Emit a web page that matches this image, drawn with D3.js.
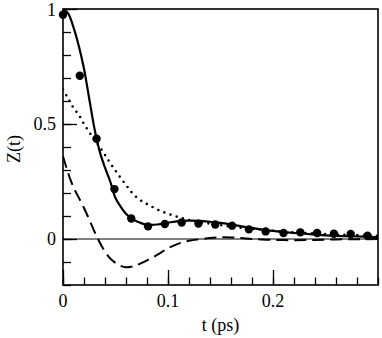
<!DOCTYPE html>
<html>
<head>
<meta charset="utf-8">
<script src="https://cdn.jsdelivr.net/npm/d3@7"></script>
<style>
  body { margin: 0; background: #fff; }
  svg { display: block; }
  svg text { font-family: 'Liberation Serif', 'Times New Roman', Times, 'DejaVu Serif', serif; }
</style>
</head>
<body>
<svg id="chart" width="382" height="338"></svg>
<script>
// simulated points (filled circles)
const dotT = [0, 0.016, 0.032, 0.049, 0.065, 0.081, 0.097, 0.113, 0.129, 0.145,
              0.161, 0.177, 0.193, 0.210, 0.226, 0.242, 0.258, 0.274, 0.290];
const dotZ = [0.975, 0.71, 0.436, 0.217, 0.089, 0.055, 0.065, 0.072, 0.067, 0.063,
              0.058, 0.042, 0.033, 0.026, 0.029, 0.026, 0.023, 0.022, 0.014];

// curves sampled on a common time grid
const curveT = [0, 0.005, 0.01, 0.015, 0.02, 0.025, 0.03, 0.035, 0.04, 0.045,
                0.05, 0.055, 0.06, 0.065, 0.07, 0.075, 0.08, 0.09, 0.10, 0.11,
                0.12, 0.13, 0.14, 0.15, 0.16, 0.17, 0.18, 0.20, 0.22, 0.24,
                0.26, 0.28, 0.30];
const solidZ = [1.0, 0.98, 0.92, 0.84, 0.74, 0.61, 0.48, 0.38, 0.31, 0.25,
                0.178, 0.14, 0.11, 0.09, 0.077, 0.068, 0.062, 0.063, 0.071, 0.078,
                0.08, 0.079, 0.075, 0.07, 0.063, 0.055, 0.048, 0.035, 0.026, 0.019,
                0.014, 0.011, 0.008];
const dottedZ = [0.65, 0.61, 0.57, 0.54, 0.50, 0.465, 0.43, 0.40, 0.365, 0.33,
                 0.297, 0.265, 0.235, 0.205, 0.182, 0.165, 0.152, 0.128, 0.11, 0.095,
                 0.083, 0.074, 0.067, 0.06, 0.054, 0.049, 0.044, 0.036, 0.029, 0.024,
                 0.02, 0.017, 0.014];
const dashedZ = [0.36, 0.285, 0.225, 0.18, 0.135, 0.085, 0.032, -0.015, -0.055, -0.085,
                 -0.104, -0.117, -0.123, -0.121, -0.114, -0.104, -0.093, -0.068, -0.04, -0.02,
                 -0.008, -0.001, 0.004, 0.007, 0.007, 0.004, 0.0, -0.004, -0.005, -0.004,
                 -0.002, -0.001, 0.0];

const xTicks = [0, 0.1, 0.2];
const yTicks = [0, 0.5, 1];

const svg = d3.select('#chart');
const m = { left: 63, right: 378, top: 9, bottom: 285 };

const x = d3.scaleLinear().domain([0, 0.3]).range([m.left, m.right]);
const y = d3.scaleLinear().domain([-0.2, 1]).range([m.bottom, m.top]);

svg.append('clipPath').attr('id', 'clip')
  .append('rect')
  .attr('x', m.left).attr('y', m.top)
  .attr('width', m.right - m.left).attr('height', m.bottom - m.top);

const plot = svg.append('g').attr('clip-path', 'url(#clip)');

// zero line
plot.append('line')
  .attr('x1', m.left).attr('x2', m.right)
  .attr('y1', y(0)).attr('y2', y(0))
  .attr('stroke', '#000').attr('stroke-width', 1);

const line = d3.line()
  .x(d => x(d[0]))
  .y(d => y(d[1]))
  .curve(d3.curveCatmullRom);

plot.append('path')
  .attr('d', line(curveT.map((t, i) => [t, dashedZ[i]])))
  .attr('fill', 'none').attr('stroke', '#000')
  .attr('stroke-width', 2).attr('stroke-dasharray', '12 6');

plot.append('path')
  .attr('d', line(curveT.map((t, i) => [t, dottedZ[i]])))
  .attr('fill', 'none').attr('stroke', '#000')
  .attr('stroke-width', 2.6).attr('stroke-linecap', 'round')
  .attr('stroke-dasharray', '0 6.5');

plot.append('path')
  .attr('d', line(curveT.map((t, i) => [t, solidZ[i]])))
  .attr('fill', 'none').attr('stroke', '#000')
  .attr('stroke-width', 2.2);

svg.append('g')
  .selectAll('circle')
  .data(dotT.map((t, i) => [t, dotZ[i]]))
  .join('circle')
  .attr('cx', d => x(d[0]))
  .attr('cy', d => y(d[1]))
  .attr('r', 4.2)
  .attr('fill', '#000');

// axes with inward ticks
const xAxisMajor = d3.axisTop(x).tickValues(xTicks).tickSize(15).tickFormat('');
const xAxisMinor = d3.axisTop(x).tickValues(d3.range(0, 0.3001, 0.02)).tickSize(7.5).tickFormat('');
const yAxisMajor = d3.axisRight(y).tickValues(yTicks).tickSize(14).tickFormat('');
const yAxisMinor = d3.axisRight(y).tickValues(d3.range(-0.2, 1.0001, 0.1)).tickSize(8).tickFormat('');

[xAxisMinor, xAxisMajor].forEach(ax => {
  const g = svg.append('g').attr('transform', `translate(0,${m.bottom})`).call(ax);
  g.select('.domain').remove();
  g.selectAll('line').attr('stroke', '#000').attr('stroke-width', 1.3);
});
[yAxisMinor, yAxisMajor].forEach(ax => {
  const g = svg.append('g').attr('transform', `translate(${m.left},0)`).call(ax);
  g.select('.domain').remove();
  g.selectAll('line').attr('stroke', '#000').attr('stroke-width', 1.3);
});

// frame
svg.append('rect')
  .attr('x', m.left).attr('y', m.top)
  .attr('width', m.right - m.left).attr('height', m.bottom - m.top)
  .attr('fill', 'none').attr('stroke', '#000').attr('stroke-width', 1.6);

// tick labels
svg.append('g').selectAll('text')
  .data(xTicks)
  .join('text')
  .attr('x', d => x(d))
  .attr('y', 307)
  .attr('text-anchor', 'middle')
  .attr('font-size', 18)
  .text(d => d3.format('')(d));

svg.append('g').selectAll('text')
  .data(yTicks)
  .join('text')
  .attr('x', 56)
  .attr('y', d => Math.max(y(d) + 6, 16))
  .attr('text-anchor', 'end')
  .attr('font-size', 18)
  .text(d => d3.format('')(d));

// axis titles
svg.append('text')
  .attr('x', (m.left + m.right) / 2)
  .attr('y', 331)
  .attr('text-anchor', 'middle')
  .attr('font-size', 18)
  .text('t (ps)');

svg.append('text')
  .attr('transform', `translate(20,${(m.top + m.bottom) / 2 + 2}) rotate(-90)`)
  .attr('text-anchor', 'middle')
  .attr('font-size', 18)
  .text('Z(t)');
</script>
</body>
</html>
